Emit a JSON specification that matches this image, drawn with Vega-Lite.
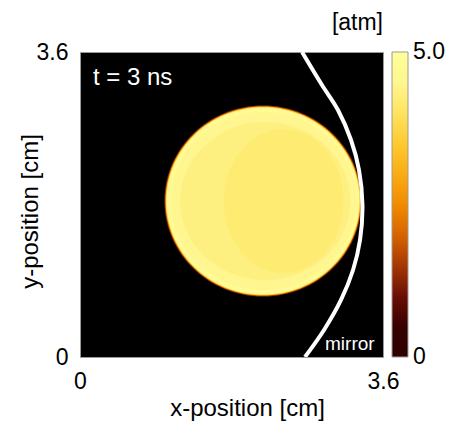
{
  "$schema": "https://vega.github.io/schema/vega-lite/v6.json",
  "width": 303,
  "height": 305,
  "autosize": {"type": "none"},
  "padding": {"left": 80, "top": 52, "right": 72, "bottom": 67},
  "background": "white",
  "title": {"text": "[atm]", "anchor": "end", "frame": "group", "font": "Liberation Sans", "fontSize": 23, "fontWeight": "normal", "color": "black", "offset": 6},
  "config": {
    "view": {"fill": "black", "stroke": "#9a9a9a", "strokeWidth": 1},
    "axis": {"domain": false, "ticks": false, "tickSize": 0, "grid": false, "labelFont": "Liberation Sans", "labelFontSize": 23, "labelColor": "black", "titleFont": "Liberation Sans", "titleFontSize": 24, "titleFontWeight": "normal", "titleColor": "black", "labelFlush": false, "labelExpr": "datum.value == 0 ? '0' : format(datum.value, '.1f')"}
  },
  "datasets": {
    "disk": [
      {"part": "edge", "x": 2.174, "y": 1.841, "p": 1.5},
      {"part": "glow", "x": 2.174, "y": 1.841, "p": 3.4},
      {"part": "rim", "x": 2.174, "y": 1.841, "p": 4.7},
      {"part": "ring", "x": 2.18, "y": 1.841, "p": 4.45},
      {"part": "core", "x": 2.2, "y": 1.841, "p": 4.25},
      {"part": "deep", "x": 2.42, "y": 1.84, "p": 3.95}
    ],
    "mirror": [
      {"x": 2.638, "y": 3.6},
      {"x": 2.875, "y": 3.21},
      {"x": 3.065, "y": 2.915},
      {"x": 3.22, "y": 2.561},
      {"x": 3.315, "y": 2.207},
      {"x": 3.356, "y": 1.794},
      {"x": 3.327, "y": 1.381},
      {"x": 3.244, "y": 1.027},
      {"x": 3.101, "y": 0.673},
      {"x": 2.899, "y": 0.319},
      {"x": 2.673, "y": 0.0}
    ],
    "notes": [
      {"kind": "time", "x": 0.154, "y": 3.21, "text": "t = 3 ns"},
      {"kind": "mirror", "x": 2.911, "y": 0.083, "text": "mirror"}
    ]
  },
  "layer": [
    {
      "data": {"name": "disk"},
      "transform": [{"filter": "datum.part === 'edge'"}],
      "mark": {"type": "point", "filled": true, "opacity": 1, "strokeWidth": 0, "shape": "M-1,0A1,0.97,0,1,1,1,0A1,0.97,0,1,1,-1,0Z", "size": 38809},
      "encoding": {
        "x": {"field": "x", "type": "quantitative", "scale": {"domain": [0, 3.6], "nice": false, "zero": false}, "axis": {"values": [0, 3.6], "labelPadding": 13, "title": "x-position [cm]", "titleX": 167, "titleY": 58, "titleBaseline": "alphabetic", "titleAlign": "center", "titleAnchor": "middle"}},
        "y": {"field": "y", "type": "quantitative", "scale": {"domain": [0, 3.6], "nice": false, "zero": false}, "axis": {"values": [0, 3.6], "labelPadding": 12, "title": "y-position [cm]", "titleX": -43, "titleY": 159, "titleAngle": 270, "titleBaseline": "alphabetic", "titleAlign": "center", "titleAnchor": "middle"}},
        "color": {"field": "p", "type": "quantitative",
          "scale": {"domain": [0, 0.625, 1.25, 1.875, 2.5, 3.125, 3.75, 4.375, 5], "range": ["#000000", "#3c0000", "#8a2200", "#d05a00", "#f08c00", "#fcb418", "#ffd840", "#fff38c", "#ffffff"]},
          "legend": {"type": "gradient", "orient": "none", "legendX": 312, "legendY": 0, "direction": "vertical", "title": null, "gradientLength": 305, "gradientThickness": 16, "gradientStrokeColor": "#9a9a9a", "gradientStrokeWidth": 1, "values": [0.001, 4.999], "labelExpr": "datum.value < 1 ? '0' : '5.0'", "labelFont": "Liberation Sans", "labelFontSize": 23, "labelColor": "black", "labelOffset": 5, "labelOverlap": false}}
      }
    },
    {
      "data": {"name": "disk"},
      "transform": [{"filter": "datum.part === 'glow'"}],
      "mark": {"type": "point", "filled": true, "opacity": 1, "strokeWidth": 0, "shape": "M-1,0A1,0.97,0,1,1,1,0A1,0.97,0,1,1,-1,0Z", "size": 38025},
      "encoding": {"x": {"field": "x", "type": "quantitative"}, "y": {"field": "y", "type": "quantitative"}, "color": {"field": "p", "type": "quantitative"}}
    },
    {
      "data": {"name": "disk"},
      "transform": [{"filter": "datum.part === 'rim'"}],
      "mark": {"type": "point", "filled": true, "opacity": 1, "strokeWidth": 0, "shape": "M-1,0A1,0.97,0,1,1,1,0A1,0.97,0,1,1,-1,0Z", "size": 37249},
      "encoding": {"x": {"field": "x", "type": "quantitative"}, "y": {"field": "y", "type": "quantitative"}, "color": {"field": "p", "type": "quantitative"}}
    },
    {
      "data": {"name": "disk"},
      "transform": [{"filter": "datum.part === 'ring'"}],
      "mark": {"type": "point", "filled": true, "opacity": 0.85, "strokeWidth": 0, "shape": "M-1,0A1,0.96,0,1,1,1,0A1,0.96,0,1,1,-1,0Z", "size": 34225},
      "encoding": {"x": {"field": "x", "type": "quantitative"}, "y": {"field": "y", "type": "quantitative"}, "color": {"field": "p", "type": "quantitative"}}
    },
    {
      "data": {"name": "disk"},
      "transform": [{"filter": "datum.part === 'core'"}],
      "mark": {"type": "point", "filled": true, "opacity": 0.85, "strokeWidth": 0, "shape": "M-1,0A1,0.93,0,1,1,1,0A1,0.93,0,1,1,-1,0Z", "size": 28900},
      "encoding": {"x": {"field": "x", "type": "quantitative"}, "y": {"field": "y", "type": "quantitative"}, "color": {"field": "p", "type": "quantitative"}}
    },
    {
      "data": {"name": "disk"},
      "transform": [{"filter": "datum.part === 'deep'"}],
      "mark": {"type": "point", "filled": true, "opacity": 0.35, "strokeWidth": 0, "shape": "M-1,0A1,1.2,0,1,1,1,0A1,1.2,0,1,1,-1,0Z", "size": 14400},
      "encoding": {"x": {"field": "x", "type": "quantitative"}, "y": {"field": "y", "type": "quantitative"}, "color": {"field": "p", "type": "quantitative"}}
    },
    {
      "data": {"name": "mirror"},
      "mark": {"type": "line", "color": "white", "strokeWidth": 4, "interpolate": "catmull-rom", "clip": true},
      "encoding": {"x": {"field": "x", "type": "quantitative"}, "y": {"field": "y", "type": "quantitative"}, "order": {"field": "y", "type": "quantitative"}}
    },
    {
      "data": {"name": "notes"},
      "transform": [{"filter": "datum.kind === 'time'"}],
      "mark": {"type": "text", "color": "white", "font": "Liberation Sans", "fontSize": 24, "align": "left", "baseline": "alphabetic"},
      "encoding": {"x": {"field": "x", "type": "quantitative"}, "y": {"field": "y", "type": "quantitative"}, "text": {"field": "text"}}
    },
    {
      "data": {"name": "notes"},
      "transform": [{"filter": "datum.kind === 'mirror'"}],
      "mark": {"type": "text", "color": "white", "font": "Liberation Sans", "fontSize": 19, "align": "left", "baseline": "alphabetic"},
      "encoding": {"x": {"field": "x", "type": "quantitative"}, "y": {"field": "y", "type": "quantitative"}, "text": {"field": "text"}}
    }
  ]
}
